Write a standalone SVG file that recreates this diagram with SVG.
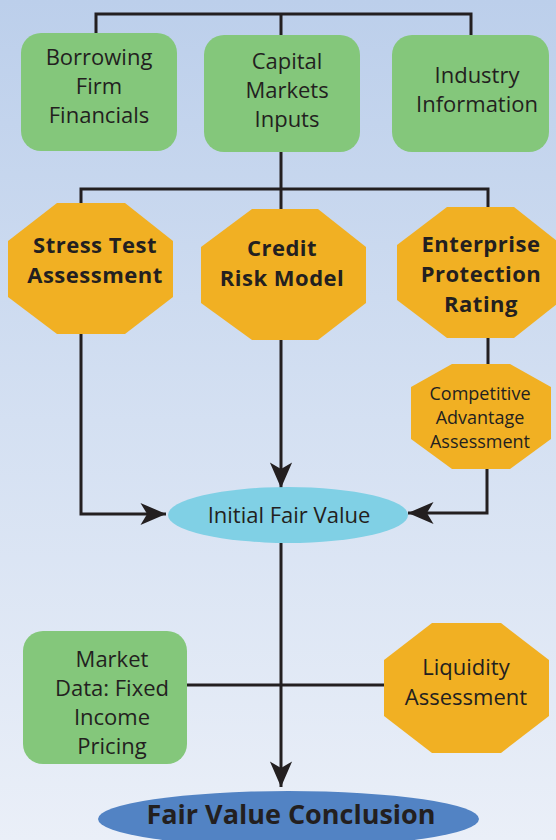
<svg xmlns="http://www.w3.org/2000/svg" width="556" height="840" viewBox="0 0 556 840">
<defs>
<linearGradient id="bg" x1="0" y1="0" x2="0" y2="1">
<stop offset="0" stop-color="#bccfeb"/>
<stop offset="0.5" stop-color="#d4e0f2"/>
<stop offset="1" stop-color="#eaeff8"/>
</linearGradient>
<marker id="arr" markerUnits="userSpaceOnUse" markerWidth="30" markerHeight="30" viewBox="-25 -12 27 24" refX="0" refY="0" orient="auto">
<path d="M0,0 L-23,-10 L-17,0 L-23,10 Z" fill="#231f20"/>
</marker>
<style>
.box{fill:#84c77b}
.oct{fill:#f1b023}
.t{font-family:"Open Sans","Liberation Sans",sans-serif;font-size:22px;fill:#231f20;text-anchor:middle}
.b{font-weight:bold;font-size:22px;letter-spacing:0.5px}
.s{font-size:18px}
.ln{fill:none;stroke:#231f20;stroke-width:3}
</style>
</defs>
<rect x="0" y="0" width="556" height="840" fill="url(#bg)"/>
<g id="connectors">
<polyline class="ln" points="96,33 96,14 471,14 471,35"/>
<line class="ln" x1="281" y1="14" x2="281" y2="35"/>
<line class="ln" x1="281" y1="152" x2="281" y2="209"/>
<polyline class="ln" points="81,203 81,189 488,189 488,207"/>
<polyline class="ln" points="81,334 81,514 166,514" marker-end="url(#arr)"/>
<line class="ln" x1="281" y1="340" x2="281" y2="488" marker-end="url(#arr)"/>
<line class="ln" x1="488" y1="338" x2="488" y2="364"/>
<polyline class="ln" points="487,469 487,513 408,513" marker-end="url(#arr)"/>
<line class="ln" x1="281" y1="543" x2="281" y2="787" marker-end="url(#arr)"/>
<line class="ln" x1="186" y1="685" x2="385" y2="685"/>
</g>
<g id="borrowing">
<rect class="box" x="21" y="33" width="156" height="118" rx="20"/>
<text class="t" x="99" y="65">Borrowing</text>
<text class="t" x="99" y="94">Firm</text>
<text class="t" x="99" y="123">Financials</text>
</g>
<g id="capital">
<rect class="box" x="204" y="35" width="156" height="117" rx="20"/>
<text class="t" x="287" y="69">Capital</text>
<text class="t" x="287" y="98">Markets</text>
<text class="t" x="287" y="127">Inputs</text>
</g>
<g id="industry">
<rect class="box" x="392" y="35" width="157" height="117" rx="20"/>
<text class="t" x="477" y="83">Industry</text>
<text class="t" x="477" y="112">Information</text>
</g>
<g id="stress">
<polygon class="oct" points="57,203 125,203 173,241 173,297 125,334 57,334 8,297 8,241"/>
<text class="t b" x="95" y="253">Stress Test</text>
<text class="t b" x="95" y="283">Assessment</text>
</g>
<g id="credit">
<polygon class="oct" points="252,209 318,209 366,247 366,303 318,340 252,340 201,303 201,247"/>
<text class="t b" x="282" y="256">Credit</text>
<text class="t b" x="282" y="286">Risk Model</text>
</g>
<g id="enterprise">
<polygon class="oct" points="447,207 514,207 562,245 562,300 514,338 447,338 397,300 397,245"/>
<text class="t b" x="481" y="252">Enterprise</text>
<text class="t b" x="481" y="282">Protection</text>
<text class="t b" x="481" y="312">Rating</text>
</g>
<g id="competitive">
<polygon class="oct" points="452,364 510,364 551,387 551,439 510,469 452,469 411,439 411,387"/>
<text class="t s" x="480" y="400">Competitive</text>
<text class="t s" x="480" y="424">Advantage</text>
<text class="t s" x="480" y="448">Assessment</text>
</g>
<g id="initial">
<ellipse cx="288" cy="515" rx="120" ry="28" fill="#80d0e5"/>
<text class="t" x="289" y="523">Initial Fair Value</text>
</g>
<g id="market">
<rect class="box" x="23" y="631" width="164" height="133" rx="20"/>
<text class="t" x="112" y="667">Market</text>
<text class="t" x="112" y="696">Data: Fixed</text>
<text class="t" x="112" y="725">Income</text>
<text class="t" x="112" y="754">Pricing</text>
</g>
<g id="liquidity">
<polygon class="oct" points="432,623 501,623 549,660 549,716 501,753 432,753 384,716 384,660"/>
<text class="t" x="466" y="675">Liquidity</text>
<text class="t" x="466" y="705">Assessment</text>
</g>
<g id="conclusion">
<ellipse cx="288.5" cy="819" rx="190.5" ry="28" fill="#5283c4"/>
<text class="t b" x="291" y="824" style="font-size:27px;letter-spacing:0">Fair Value Conclusion</text>
</g>
</svg>
